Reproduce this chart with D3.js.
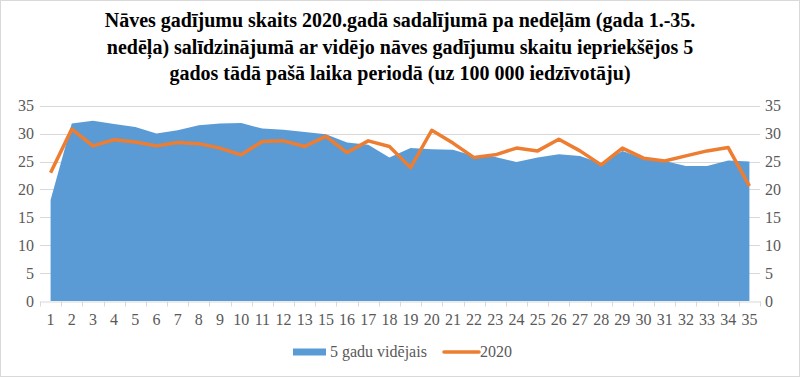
<!DOCTYPE html>
<html>
<head>
<meta charset="utf-8">
<script src="https://cdn.jsdelivr.net/npm/d3@7"></script>
<style>
body { margin: 0; background: #fff; }
svg { display: block; font-family: "Liberation Serif", "Times New Roman", serif; }
</style>
</head>
<body>
<div id="chart"></div>
<script>
// weeks (week 14 is absent in the source chart)
var weeks = ["1","2","3","4","5","6","7","8","9","10","11","12","13","15","16","17","18","19","20","21","22","23","24","25","26","27","28","29","30","31","32","33","34","35"];
var avg5 = [18.1,31.8,32.3,31.7,31.2,30.0,30.6,31.5,31.8,31.9,30.9,30.7,30.3,29.9,28.4,28.0,25.7,27.4,27.2,27.1,26.0,25.8,24.9,25.7,26.3,26.0,24.7,26.9,25.6,25.1,24.2,24.2,25.2,25.0];
var y2020 = [23.0,30.8,27.8,28.9,28.5,27.8,28.4,28.2,27.4,26.2,28.6,28.7,27.7,29.5,26.6,28.7,27.7,23.9,30.6,28.3,25.7,26.2,27.4,26.9,29.0,26.9,24.4,27.4,25.6,25.1,26.0,26.9,27.5,20.6];
var yTicks = [0,5,10,15,20,25,30,35];
var titleLines = [
  "Nāves gadījumu skaits 2020.gadā sadalījumā pa nedēļām (gada 1.-35.",
  "nedēļa) salīdzinājumā ar vidējo nāves gadījumu skaitu iepriekšējos 5",
  "gados tādā pašā laika periodā (uz 100 000 iedzīvotāju)"
];

drawChart();

function drawChart() {
  var width = 800, height = 377;
  var plotLeft = 40, plotRight = 760, plotTop = 105.7, plotBottom = 301;

  var svg = d3.select("#chart").append("svg")
    .attr("width", width)
    .attr("height", height);

  svg.append("rect")
    .attr("x", 0.5).attr("y", 0.5)
    .attr("width", width - 1).attr("height", height - 1)
    .attr("fill", "#fff").attr("stroke", "#d9d9d9");

  // title
  svg.append("g").selectAll("text")
    .data(titleLines)
    .enter().append("text")
    .attr("x", width / 2)
    .attr("y", (d, i) => 27 + i * 26.5)
    .attr("text-anchor", "middle")
    .style("font-size", "20px")
    .style("font-weight", "bold")
    .attr("fill", "#000")
    .text(d => d);

  var x = d3.scaleBand().domain(weeks).range([plotLeft, plotRight]);
  var y = d3.scaleLinear().domain([0, 35]).range([plotBottom, plotTop]);
  var cx = d => x(d) + x.bandwidth() / 2;

  // gridlines
  svg.append("g").selectAll("line")
    .data(yTicks.slice(1))
    .enter().append("line")
    .attr("x1", plotLeft).attr("x2", plotRight)
    .attr("y1", d => Math.round(y(d)) + 0.5)
    .attr("y2", d => Math.round(y(d)) + 0.5)
    .attr("stroke", "#d9d9d9");

  // area
  var area = d3.area()
    .x((d, i) => cx(weeks[i]))
    .y0(y(0))
    .y1(d => y(d));

  svg.append("path")
    .datum(avg5)
    .attr("d", area)
    .attr("fill", "#5b9bd5");

  // x axis
  var gx = svg.append("g")
    .attr("transform", "translate(0," + (Math.round(plotBottom) + 0.5) + ")")
    .call(d3.axisBottom(x).tickSize(0).tickPadding(12));
  gx.select(".domain").attr("stroke", "#d9d9d9");
  gx.selectAll("text")
    .style("font-family", "Liberation Serif, serif")
    .style("font-size", "16px")
    .attr("fill", "#595959");
  gx.selectAll(".sep")
    .data(weeks.concat(["end"]))
    .enter().append("line")
    .attr("class", "sep")
    .attr("x1", (d, i) => Math.round(plotLeft + i * x.bandwidth()) + 0.5)
    .attr("x2", (d, i) => Math.round(plotLeft + i * x.bandwidth()) + 0.5)
    .attr("y1", 0).attr("y2", 5)
    .attr("stroke", "#d9d9d9");

  // left and right axes
  var yl = svg.append("g")
    .attr("transform", "translate(" + (plotLeft - 6) + ",0)")
    .call(d3.axisLeft(y).tickValues(yTicks).tickSize(0).tickPadding(0));
  var yr = svg.append("g")
    .attr("transform", "translate(" + (plotRight + 5) + ",0)")
    .call(d3.axisRight(y).tickValues(yTicks).tickSize(0).tickPadding(0));
  [yl, yr].forEach(function(g) {
    g.select(".domain").remove();
    g.selectAll("text")
      .style("font-family", "Liberation Serif, serif")
      .style("font-size", "16px")
      .attr("fill", "#595959");
  });

  // 2020 line
  var line = d3.line()
    .x((d, i) => cx(weeks[i]))
    .y(d => y(d));

  svg.append("path")
    .datum(y2020)
    .attr("d", line)
    .attr("fill", "none")
    .attr("stroke", "#ed7d31")
    .attr("stroke-width", 3.5)
    .attr("stroke-linejoin", "round");

  // legend
  var lg = svg.append("g").attr("transform", "translate(0,352)");
  lg.append("rect")
    .attr("x", 293).attr("y", -3.5)
    .attr("width", 33).attr("height", 7)
    .attr("fill", "#5b9bd5");
  lg.append("text")
    .attr("x", 330).attr("y", 5)
    .style("font-size", "16px")
    .attr("fill", "#595959")
    .text("5 gadu vidējais");
  lg.append("line")
    .attr("x1", 444).attr("x2", 479)
    .attr("y1", 0).attr("y2", 0)
    .attr("stroke", "#ed7d31")
    .attr("stroke-width", 3.5)
    .attr("stroke-linecap", "round");
  lg.append("text")
    .attr("x", 480).attr("y", 5)
    .style("font-size", "16px")
    .attr("fill", "#595959")
    .text("2020");
}
</script>
</body>
</html>
